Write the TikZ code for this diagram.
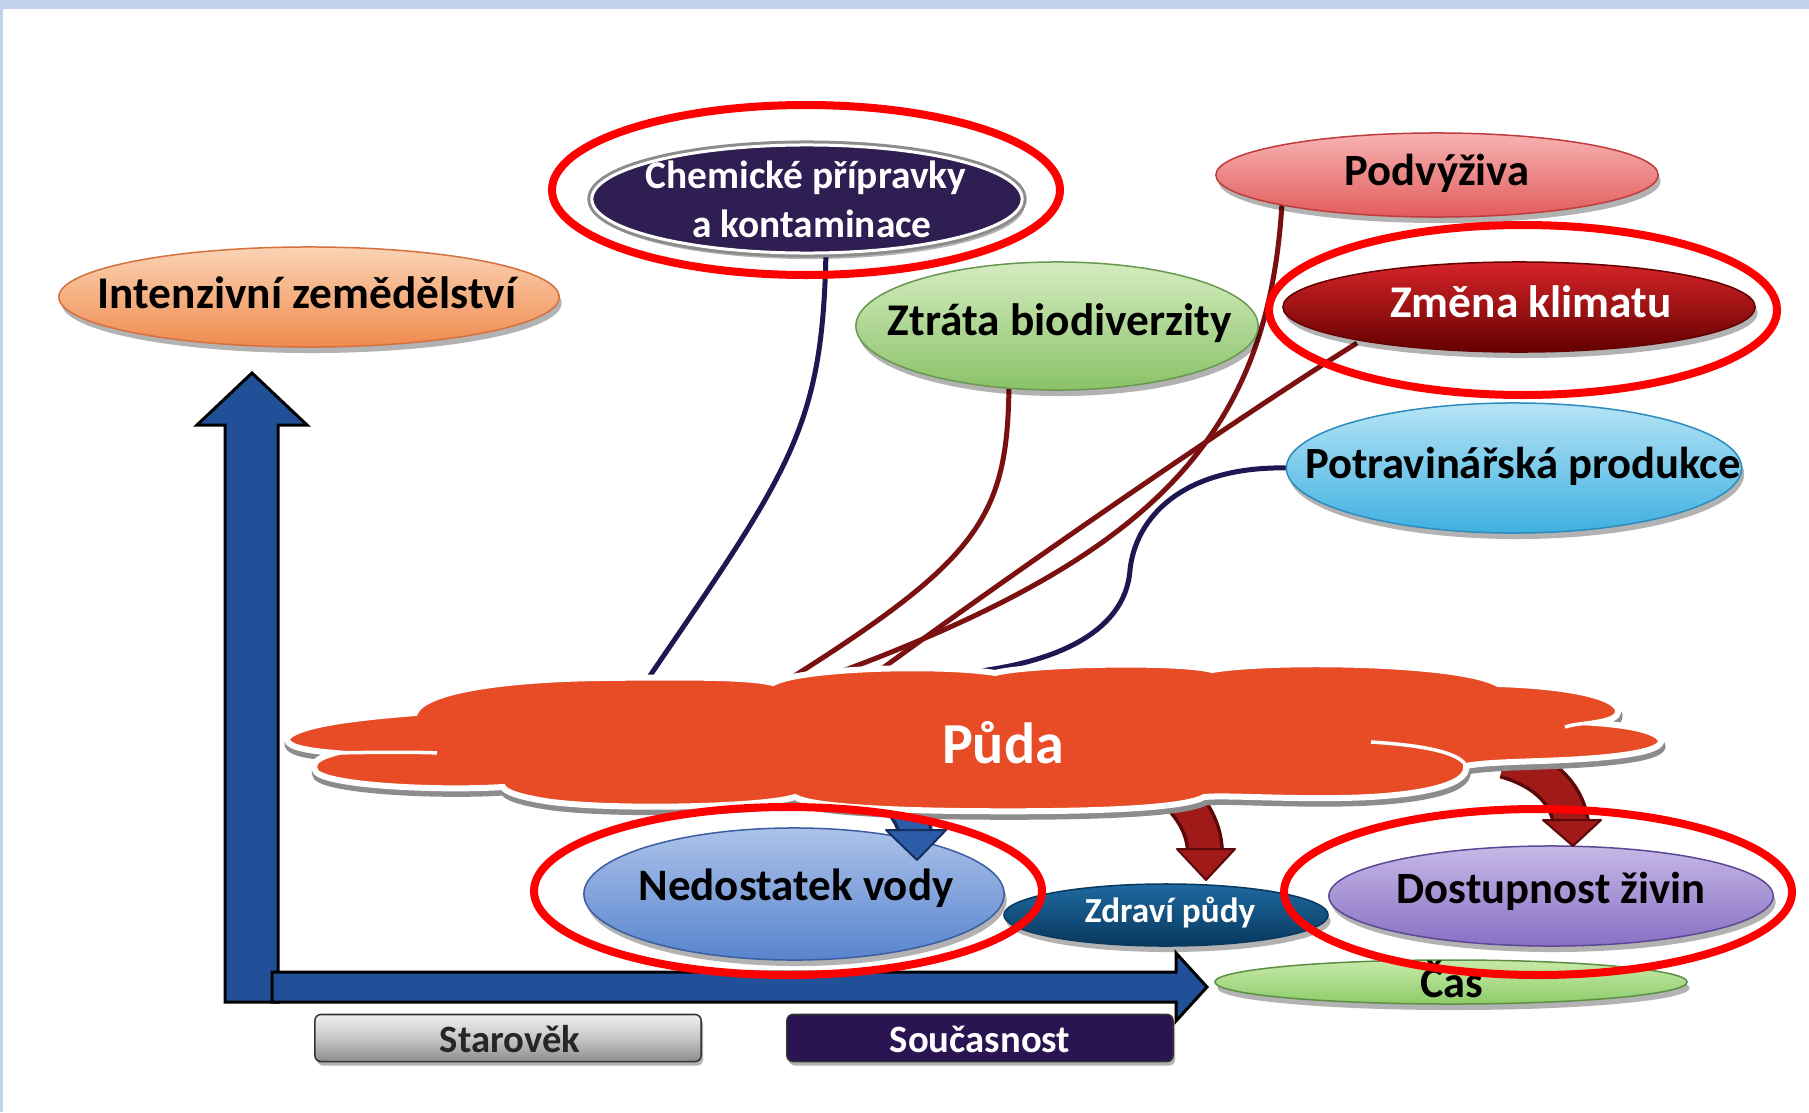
\documentclass[tikz,border=0pt]{standalone}
\usepackage{fontspec}
\setmainfont{Carlito}
\usetikzlibrary{shapes.geometric,shadows,calc}
\pgfdeclarelayer{bg}
\pgfsetlayers{bg,main}
\newcommand\myfs[1]{\fontsize{#1}{#1}\selectfont}
\definecolor{bandblue}{RGB}{193,209,238}
\definecolor{axisblue}{RGB}{34,80,152}
\definecolor{navyline}{RGB}{30,24,82}
\definecolor{redline}{RGB}{122,16,16}
\definecolor{cloudred}{RGB}{232,76,38}
\definecolor{ringred}{RGB}{255,0,0}
\definecolor{intT}{RGB}{250,212,180}
\definecolor{intB}{RGB}{240,138,78}
\definecolor{intD}{RGB}{214,112,62}
\definecolor{chemF}{RGB}{46,30,82}
\definecolor{podT}{RGB}{247,178,178}
\definecolor{podB}{RGB}{226,92,92}
\definecolor{podD}{RGB}{190,60,60}
\definecolor{zmT}{RGB}{214,36,40}
\definecolor{zmB}{RGB}{100,0,0}
\definecolor{ztT}{RGB}{212,236,192}
\definecolor{ztB}{RGB}{138,194,104}
\definecolor{ztD}{RGB}{104,152,80}
\definecolor{poT}{RGB}{182,228,246}
\definecolor{poB}{RGB}{62,176,224}
\definecolor{poD}{RGB}{44,140,190}
\definecolor{neT}{RGB}{172,194,234}
\definecolor{neB}{RGB}{88,132,206}
\definecolor{neD}{RGB}{58,94,160}
\definecolor{zdT}{RGB}{30,106,160}
\definecolor{zdB}{RGB}{8,56,94}
\definecolor{doT}{RGB}{198,184,230}
\definecolor{doB}{RGB}{136,112,196}
\definecolor{doD}{RGB}{92,72,148}
\definecolor{caT}{RGB}{200,234,168}
\definecolor{caB}{RGB}{140,204,106}
\definecolor{caD}{RGB}{92,142,68}
\definecolor{arrRed}{RGB}{160,26,26}
\definecolor{arrRedD}{RGB}{90,8,8}
\definecolor{arrBlue}{RGB}{44,92,168}
\definecolor{arrBlueD}{RGB}{20,46,94}
\definecolor{nowF}{RGB}{42,20,82}
\definecolor{boxD}{RGB}{50,50,50}
\newcommand\pudapath{(287,738)
 .. controls (300,722) and (380,716) .. (415,713)
 .. controls (425,688) and (520,679) .. (600,678)
 .. controls (690,677) and (750,677) .. (773,683)
 .. controls (800,668) and (940,664) .. (995,673)
 .. controls (1030,664) and (1180,661) .. (1212,670)
 .. controls (1270,660) and (1460,662) .. (1498,684)
 .. controls (1565,686) and (1615,696) .. (1618,710)
 .. controls (1619,718) and (1608,721) .. (1595,723)
 .. controls (1640,726) and (1662,734) .. (1661,742)
 .. controls (1658,754) and (1600,759) .. (1540,761)
 .. controls (1510,762) and (1480,763) .. (1466,766)
 .. controls (1470,787) and (1410,797) .. (1340,798)
 .. controls (1280,799) and (1225,795) .. (1204,797)
 .. controls (1180,811) and (1050,812) .. (960,811)
 .. controls (880,810) and (810,806) .. (795,797)
 .. controls (760,808) and (600,810) .. (545,801)
 .. controls (520,797) and (505,792) .. (503,787)
 .. controls (440,791) and (330,786) .. (316,772)
 .. controls (310,762) and (320,757) .. (335,753)
 .. controls (300,750) and (286,746) .. (287,738) -- cycle}
\begin{document}
\begin{tikzpicture}[x=0.01cm,y=-0.01cm,
  oval/.style={ellipse, inner sep=0pt, outer sep=0pt, line width=0.015cm,
     drop shadow={shadow xshift=0.025cm, shadow yshift=-0.06cm, opacity=0.3, fill=black}},
  lbl/.style={inner sep=0pt, anchor=base, font=\bfseries\myfs{12.8pt}},
  connN/.style={draw=navyline, line width=0.05cm},
  connR/.style={draw=redline, line width=0.05cm},
  ring/.style={draw=ringred, line width=0.08cm},
  axisarr/.style={fill=axisblue, draw=black, line width=0.03cm, line join=miter},
  boxst/.style={line width=0.015cm, rounded corners=0.06cm, minimum width=3.86cm, minimum height=0.47cm, inner sep=0pt,
     drop shadow={shadow xshift=0.02cm, shadow yshift=-0.04cm, opacity=0.3, fill=black}},
  headR/.style={fill=arrRed, draw=arrRedD, line width=0.02cm, line join=round},
  headB/.style={fill=arrBlue, draw=arrBlueD, line width=0.02cm, line join=round}
]
\useasboundingbox (0,0) rectangle (1809,1112);
\begin{pgfonlayer}{bg}
\fill[white] (0,0) rectangle (1809,1112);
\fill[bandblue] (0,0) rectangle (1809,9);
\fill[bandblue] (0,0) rectangle (3,1112);
\end{pgfonlayer}

% axes
\filldraw[axisarr] (225,1002) -- (225,425) -- (197,425) -- (252,373) -- (307,425) -- (278,425) -- (278,1002) -- cycle;
\filldraw[axisarr] (272,972) -- (1176,972) -- (1176,953) -- (1207,987) -- (1176,1021) -- (1176,1002) -- (272,1002) -- cycle;

% era boxes
\node[boxst, draw=boxD, top color=black!6, bottom color=black!45, middle color=black!22] (ancient) at (508,1038) {};
\node[lbl, font=\bfseries\myfs{11pt}, text=black!85] (ancientT) at (510,1052) {Starověk};
\node[boxst, draw=black!80, fill=nowF] (present) at (980,1038) {};
\node[lbl, font=\bfseries\myfs{11pt}, text=white] (presentT) at (980,1052) {Současnost};

% upper ellipses
\node[oval, minimum width=5cm, minimum height=1cm, top color=intT, bottom color=intB, draw=intD] (intenz) at (309,297) {};
\node[lbl, font=\bfseries\myfs{12.9pt}] (intenzT) at (307,308) {Intenzivní zemědělství};

\node[oval, minimum width=4.3cm, minimum height=1.08cm, fill=chemF, draw=white, line width=0.03cm,
      preaction={draw=black!45, line width=0.09cm}] (chem) at (807,199) {};
\node[lbl, font=\bfseries\myfs{11.2pt}, text=white] (chemT1) at (806,188) {Chemické přípravky};
\node[lbl, font=\bfseries\myfs{11.2pt}, text=white] (chemT2) at (812,237) {a kontaminace};

\node[oval, minimum width=4.42cm, minimum height=0.84cm, top color=podT, bottom color=podB, draw=podD] (pod) at (1437,175) {};
\node[lbl, font=\bfseries\myfs{12.7pt}] (podT) at (1437,185) {Podvýživa};

\node[oval, minimum width=4.72cm, minimum height=0.9cm, top color=zmT, bottom color=zmB, draw=zmB] (zm) at (1519,307) {};
\node[lbl, font=\bfseries\myfs{12.9pt}, text=white] (zmT) at (1531,317) {Změna klimatu};

\node[oval, minimum width=4.02cm, minimum height=1.28cm, top color=ztT, bottom color=ztB, draw=ztD] (zt) at (1057,326) {};
\node[lbl, font=\bfseries\myfs{12.9pt}] (ztT) at (1060,335) {Ztráta biodiverzity};

\node[oval, minimum width=4.55cm, minimum height=1.3cm, top color=poT, bottom color=poB, draw=poD] (po) at (1514,468) {};
\node[lbl, font=\bfseries\myfs{12.7pt}] (poT) at (1523,478) {Potravinářská produkce};

% lower ellipses
\node[oval, minimum width=4.2cm, minimum height=1.32cm, top color=neT, bottom color=neB, draw=neD] (ne) at (794,894) {};
\node[lbl, font=\bfseries\myfs{12.8pt}] (neT) at (796,900) {Nedostatek vody};

\node[oval, minimum width=3.24cm, minimum height=0.62cm, top color=zdT, bottom color=zdB, draw=zdB] (zd) at (1166,915) {};
\node[lbl, font=\bfseries\myfs{10pt}, text=white] (zdT) at (1170,922) {Zdraví půdy};

\node[oval, minimum width=4.44cm, minimum height=1.0cm, top color=doT, bottom color=doB, draw=doD] (do) at (1551,896) {};
\node[lbl, font=\bfseries\myfs{12.7pt}] (doT) at (1551,903) {Dostupnost živin};

\node[oval, minimum width=4.72cm, minimum height=0.44cm, top color=caT, bottom color=caB, draw=caD] (ca) at (1451,982) {};
\node[lbl, font=\bfseries\myfs{12.6pt}] (caT) at (1452,997) {Čas};

% connectors (behind everything)
\coordinate (cC) at (643,686);
\coordinate (cZ) at (772,690);
\coordinate (cP) at (818,680);
\coordinate (cK) at (872,676);
\coordinate (cF) at (972,672);
\begin{pgfonlayer}{bg}
\draw[connN] ($(chem.center)+(19,50)$) .. controls (823,430) and (790,470) .. (cC);
\draw[connR] ($(zt.center)+(-48,56)$) .. controls (1008,520) and (980,560) .. (cZ);
\draw[connR] ($(pod.center)+(-155,28)$) .. controls (1268,440) and (1150,560) .. (cP);
\draw[connR] ($(zm.center)+(-162,36)$) .. controls (1250,410) and (1030,560) .. (cK);
\draw[connN] ($(po.west)+(4,0)$) .. controls (1180,465) and (1135,520) .. (1130,570)
   .. controls (1125,635) and (1050,663) .. (cF);
\end{pgfonlayer}

% block arrows from the cloud
\coordinate (aB0) at (896,795);
\coordinate (aB1) at (915,834);
\coordinate (aM0) at (1168,785);
\coordinate (aM1) at (1205,852);
\coordinate (aR0) at (1505,760);
\coordinate (aR1) at (1571,823);
\draw[arrBlueD, line width=0.36cm] (aB0) .. controls (905,810) and (913,815) .. (aB1);
\draw[arrBlue, line width=0.29cm] (aB0) .. controls (905,810) and (913,815) .. (aB1);
\filldraw[headB] (886,830) -- (946,830) -- (917,860) -- cycle;
\draw[arrRedD, line width=0.38cm] (aM0) .. controls (1190,805) and (1204,825) .. (aM1);
\draw[arrRed, line width=0.31cm] (aM0) .. controls (1190,805) and (1204,825) .. (aM1);
\filldraw[headR] (1177,849) -- (1235,849) -- (1206,880) -- cycle;
\draw[arrRedD, line width=0.38cm] (aR0) .. controls (1540,770) and (1566,790) .. (aR1);
\draw[arrRed, line width=0.31cm] (aR0) .. controls (1540,770) and (1566,790) .. (aR1);
\filldraw[headR] (1543,820) -- (1601,820) -- (1573,846) -- cycle;

% cloud
\filldraw[black!45, line width=0.07cm, shift={(1,5)}] \pudapath;
\filldraw[draw=white, fill=cloudred, line width=0.06cm] \pudapath;
\draw[white, line width=0.035cm] (335,753) .. controls (380,752) and (420,752) .. (437,753);
\draw[white, line width=0.035cm] (1371,742) .. controls (1420,745) and (1460,752) .. (1466,766);
\draw[white, line width=0.035cm] (1565,727) .. controls (1575,724) and (1585,723) .. (1595,723);
\node[lbl, font=\bfseries\myfs{16.5pt}, text=white] (puda) at (1003,763) {Půda};

% red highlight rings
\draw[ring] (806,190) ellipse [x radius=254, y radius=85];
\draw[ring] (1523,310) ellipse [x radius=254, y radius=85];
\draw[ring] (788,891) ellipse [x radius=254, y radius=84];
\draw[ring] (1538,892) ellipse [x radius=254, y radius=83];
\end{tikzpicture}
\end{document}
